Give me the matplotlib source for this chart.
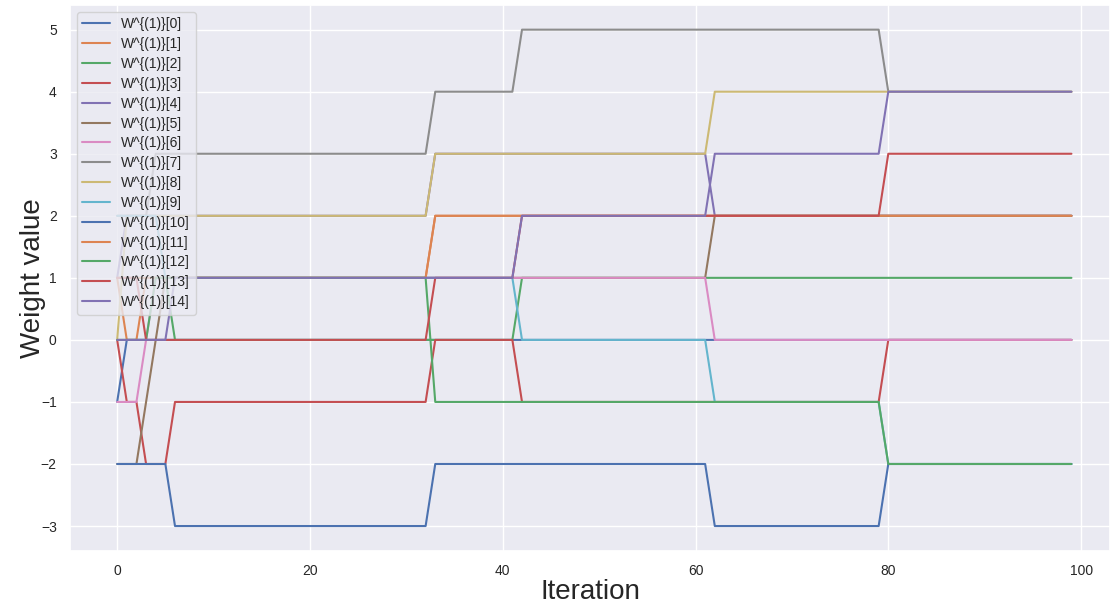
import matplotlib
matplotlib.use("Agg")
import matplotlib.pyplot as plt
import seaborn as sns

# iterations where at least one weight changes (values are constant in between)
iters = [0, 1, 2, 3, 4, 5, 6, 32, 33, 41, 42, 61, 62, 79, 80, 99]

# weight value of each W^{(1)}[k] at the iterations above
w0 = [-1, 0, 0, 0, 0, 0, 0, 0, 0, 0, 0, 0, 0, 0, 0, 0]
w1 = [1, 0, 0, 1, 1, 1, 1, 1, 2, 2, 2, 2, 2, 2, 2, 2]
w2 = [1, 1, 1, 1, 1, 1, 0, 0, 0, 0, 1, 1, 1, 1, 1, 1]
w3 = [0, -1, -1, -2, -2, -2, -1, -1, 0, 0, -1, -1, -1, -1, 0, 0]
w4 = [1, 2, 2, 2, 2, 2, 2, 2, 3, 3, 3, 3, 2, 2, 2, 2]
w5 = [-2, -2, -2, -1, 0, 1, 1, 1, 1, 1, 1, 1, 2, 2, 2, 2]
w6 = [-1, -1, -1, 0, 1, 1, 1, 1, 1, 1, 1, 1, 0, 0, 0, 0]
w7 = [2, 2, 2, 2, 3, 3, 3, 3, 4, 4, 5, 5, 5, 5, 4, 4]
w8 = [0, 2, 2, 2, 2, 2, 2, 2, 3, 3, 3, 3, 4, 4, 4, 4]
w9 = [2, 2, 2, 2, 2, 1, 1, 1, 1, 1, 0, 0, -1, -1, -2, -2]
w10 = [-2, -2, -2, -2, -2, -2, -3, -3, -2, -2, -2, -2, -3, -3, -2, -2]
w11 = [1, 1, 1, 1, 1, 1, 1, 1, 2, 2, 2, 2, 2, 2, 2, 2]
w12 = [0, 0, 0, 0, 1, 1, 1, 1, -1, -1, -1, -1, -1, -1, -2, -2]
w13 = [1, 1, 1, 0, 0, 0, 0, 0, 1, 1, 2, 2, 2, 2, 3, 3]
w14 = [0, 0, 0, 0, 0, 0, 1, 1, 1, 1, 2, 2, 3, 3, 4, 4]

weights = [w0, w1, w2, w3, w4, w5, w6, w7, w8, w9, w10, w11, w12, w13, w14]
labels = ["W^{(1)}[%d]" % k for k in range(len(weights))]

sns.set_theme(style="darkgrid")
plt.rcParams["font.family"] = ["Liberation Sans", "DejaVu Sans"]

fig = plt.figure(figsize=(11.1, 6.06), dpi=100)
ax = fig.add_axes([0.063, 0.091, 0.937, 0.901])

for vals, lab in zip(weights, labels):
    ax.plot(iters, vals, label=lab, linewidth=1.5)

ax.set_xlim(-4.9, 103.0)
ax.set_ylim(-3.4, 5.4)
ax.set_xticks([0, 20, 40, 60, 80, 100])
ax.set_yticks(range(-3, 6))
ax.tick_params(labelsize=10)
ax.set_xlabel("Iteration", fontsize=20, labelpad=1)
ax.set_ylabel("Weight value", fontsize=20, labelpad=-4)
ax.legend(loc="upper left", fontsize=10, labelspacing=0.42)

fig.savefig("out.png", dpi=100)
